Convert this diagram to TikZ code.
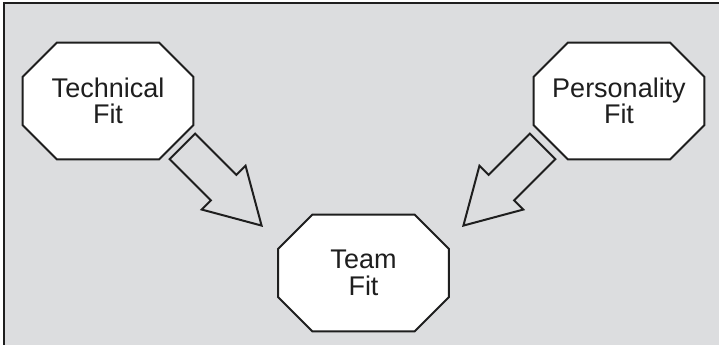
\documentclass[tikz,border=0pt]{standalone}
\usepackage{fontspec}
\newfontfamily\labelfont{Liberation Sans}
\usepackage{xcolor}
\usepackage{tikz}
\usetikzlibrary{positioning,shapes.arrows,backgrounds}
\definecolor{panelgray}{HTML}{DCDDDF}
\definecolor{inkgray}{HTML}{1E1E1E}
\tikzset{
  % --- the three fit boxes (octagon drawn behind, see below) -----------------
  fitbox/.style={rectangle,minimum width=42.5mm,minimum height=29mm,
                 inner sep=0pt,align=center,text=inkgray,
                 font=\labelfont\fontsize{19.2}{18.8}\selectfont},
  octline/.style={draw=inkgray,fill=white,line width=0.5mm},
  % --- hollow block arrows ---------------------------------------------------
  blockarr/.style={single arrow,draw=inkgray,fill=panelgray,line width=0.5mm,
                   inner xsep=0pt,inner ysep=4.25mm,minimum width=0pt,
                   single arrow head extend=3.25mm,single arrow tip angle=60,
                   minimum height=28mm},
}

\begin{document}
\begin{tikzpicture}[x=0.25mm, y=-0.25mm]
  \useasboundingbox (0,0) rectangle (719,345);

  % --- the two inputs and the result ---------------------------------------
  \node[fitbox] (tech) at (108,101)   {Technical\\Fit};
  \node[fitbox] (pers) at (619,101)   {Personality\\Fit};
  \node[fitbox] (team) at (363.5,273) {Team\\Fit};

  % --- each input feeds the team fit ---------------------------------------
  \node[blockarr,rotate=-45,anchor=tip]  (techarr) at (263,227) {};
  \node[blockarr,rotate=-135,anchor=tip] (persarr) at (462,227) {};

  \begin{scope}[on background layer]
    % the panel: only its top and left edges are in view
    \fill[panelgray] (4,3) rectangle (720,346);
    \draw[inkgray,line width=0.4mm] (4,346) -- (4,3) -- (720,3);
    % chamfered outline round each box
    \foreach \b in {tech,pers,team}
      \draw[octline] ([xshift=8.5mm]\b.north west) -- ([xshift=-8.5mm]\b.north east)
        -- ([yshift=-8.5mm]\b.north east) -- ([yshift=8.5mm]\b.south east)
        -- ([xshift=-8.5mm]\b.south east) -- ([xshift=8.5mm]\b.south west)
        -- ([yshift=8.5mm]\b.south west) -- ([yshift=-8.5mm]\b.north west) -- cycle;
  \end{scope}
\end{tikzpicture}
\end{document}
